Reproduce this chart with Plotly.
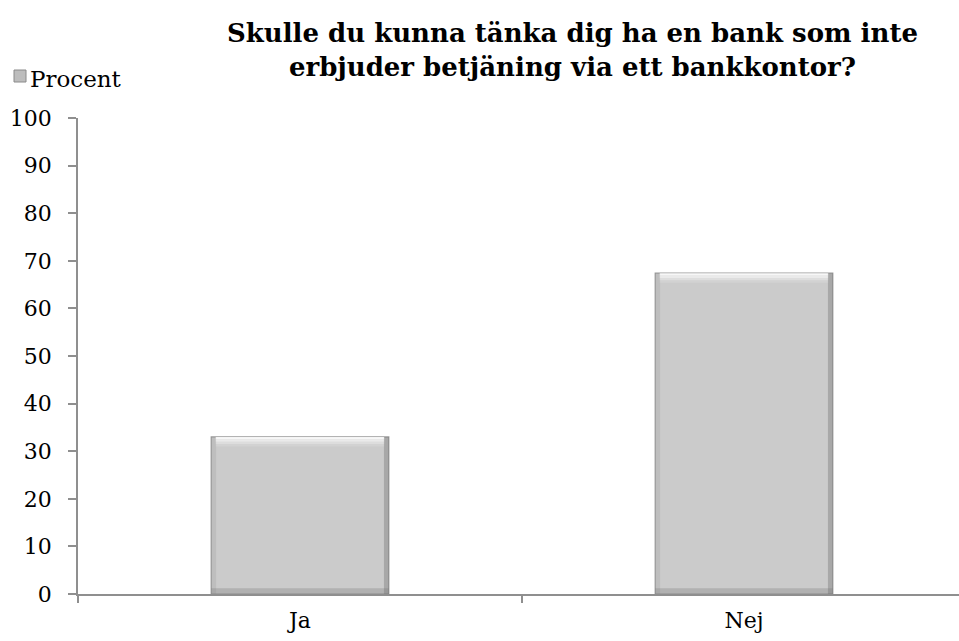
import plotly.graph_objects as go

# Survey answers (percent)
categories = ["Ja", "Nej"]
procent = [33.0, 67.4]
y_ticks = list(range(0, 101, 10))

title_text = "Skulle du kunna tänka dig ha en bank som inte<br>erbjuder betjäning via ett bankkontor?"
legend_label = "Procent"

FONT = "DejaVu Serif"
W, H = 959, 641
ML, MR, MT, MB = 78, 0, 118, 47
PW, PH = W - ML - MR, H - MT - MB
BAR_W = 0.40


def px_x(px):
    """figure pixel x -> paper x"""
    return (px - ML) / PW


def px_y(py):
    """figure pixel y (from top) -> paper y"""
    return (H - MB - py) / PH


fig = go.Figure()

# main bars
fig.add_trace(go.Bar(
    x=categories, y=procent, name=legend_label, width=BAR_W,
    marker=dict(color="#cbcbcb", line=dict(color="#9a9a9a", width=1.2)),
    hoverinfo="skip", showlegend=False,
))

# bevel: soft highlight bands along the top edge
for depth, alpha in [(0.5, 0.85), (1.0, 0.6), (1.5, 0.35), (2.0, 0.15)]:
    fig.add_trace(go.Bar(
        x=categories, y=[0.5] * len(procent),
        base=[v - depth for v in procent], width=BAR_W * 0.95,
        marker=dict(color=f"rgba(255,255,255,{alpha})", line=dict(width=0)),
        showlegend=False, hoverinfo="skip",
    ))

# bevel: darker side and bottom edges
edge = 0.011
fig.add_trace(go.Bar(
    x=categories, y=procent, width=edge, offset=BAR_W / 2 - edge,
    marker=dict(color="rgba(90,90,90,0.30)", line=dict(width=0)),
    showlegend=False, hoverinfo="skip",
))
fig.add_trace(go.Bar(
    x=categories, y=procent, width=edge, offset=-BAR_W / 2,
    marker=dict(color="rgba(120,120,120,0.15)", line=dict(width=0)),
    showlegend=False, hoverinfo="skip",
))
fig.add_trace(go.Bar(
    x=categories, y=[1.2] * len(procent), base=[0] * len(procent),
    width=BAR_W,
    marker=dict(color="rgba(110,110,110,0.28)", line=dict(width=0)),
    showlegend=False, hoverinfo="skip",
))

fig.update_layout(
    width=W, height=H,
    margin=dict(l=ML, r=MR, t=MT, b=MB),
    paper_bgcolor="white", plot_bgcolor="white",
    barmode="overlay", showlegend=False,
    font=dict(family=FONT, size=22, color="black"),
    xaxis=dict(
        type="category", range=[-0.5, 1.5 - 7 / 444],
        showline=True, linecolor="#8f8f8f", linewidth=1.5,
        ticks="outside", tickson="boundaries", ticklen=7,
        tickcolor="#8f8f8f", tickwidth=1.5,
        showgrid=False, zeroline=False, ticklabelstandoff=6,
        fixedrange=True,
    ),
    yaxis=dict(
        range=[0, 100], tickvals=y_ticks,
        showline=True, linecolor="#8f8f8f", linewidth=1.5,
        ticks="outside", ticklen=8, tickcolor="#8f8f8f", tickwidth=1.5,
        showgrid=False, zeroline=False, ticklabelstandoff=12,
        fixedrange=True,
    ),
    annotations=[
        dict(
            text=f"<b>{title_text}</b>", xref="paper", yref="paper",
            x=px_x(572), y=px_y(16), xanchor="center", yanchor="top",
            showarrow=False, align="center",
            font=dict(family=FONT, size=26, color="black"),
        ),
        dict(
            text=legend_label, xref="paper", yref="paper",
            x=px_x(28), y=px_y(79), xanchor="left", yanchor="middle",
            showarrow=False, font=dict(family=FONT, size=23, color="black"),
        ),
    ],
    shapes=[
        # legend key
        dict(
            type="rect", xref="paper", yref="paper",
            x0=px_x(14), x1=px_x(26), y0=px_y(82), y1=px_y(70),
            fillcolor="#bdbdbd", line=dict(color="#8a8a8a", width=1),
        ),
    ],
)

fig.write_html("out.html")
